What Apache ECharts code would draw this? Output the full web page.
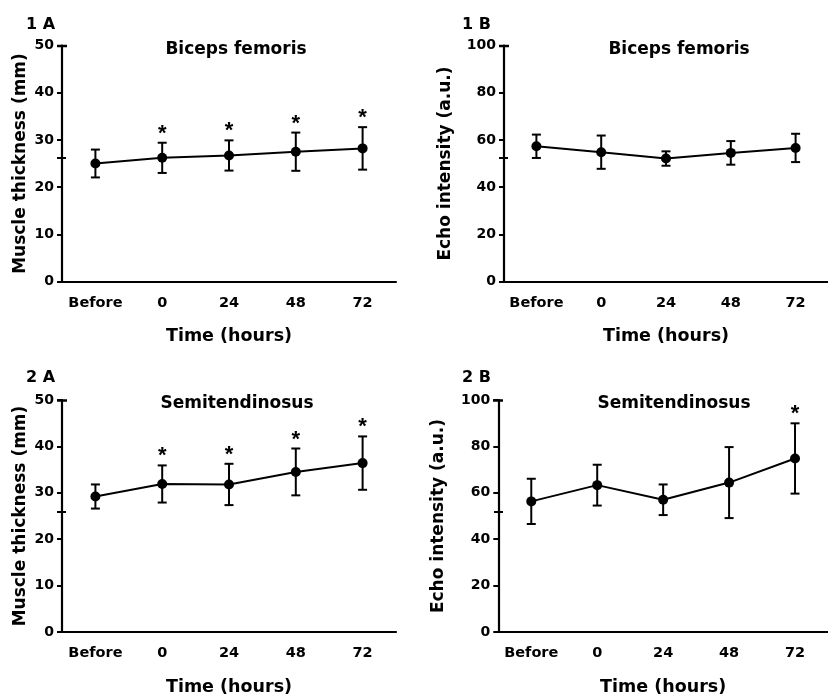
<!DOCTYPE html>
<html>
<head>
<meta charset="utf-8">
<script src="https://cdn.jsdelivr.net/npm/echarts@6/dist/echarts.min.js"></script>
<style>html,body{margin:0;padding:0;background:#fff;}#c{width:828px;height:697px;}</style>
</head>
<body>
<div id="c"></div>
<script>
// ---- data ----
var categories = ['Before', '0', '24', '48', '72'];

var bfThickMean = [25.0, 26.2, 26.7, 27.5, 28.2];
var bfThickSD   = [2.95, 3.2, 3.2, 4.05, 4.5];
var bfThickSig  = [0, 1, 1, 1, 1];

var bfEchoMean = [57.3, 54.8, 52.1, 54.5, 56.6];
var bfEchoSD   = [4.95, 7.05, 3.05, 5.0, 6.0];
var bfEchoSig  = [0, 0, 0, 0, 0];

var stThickMean = [29.2, 31.9, 31.8, 34.5, 36.4];
var stThickSD   = [2.6, 4.0, 4.45, 5.05, 5.75];
var stThickSig  = [0, 1, 1, 1, 1];

var stEchoMean = [56.3, 63.3, 57.0, 64.4, 74.8];
var stEchoSD   = [9.75, 8.8, 6.6, 15.3, 15.15];
var stEchoSig  = [0, 0, 0, 0, 1];

var thickTicks = {min: 0, max: 50, interval: 10};
var echoTicks  = {min: 0, max: 100, interval: 20};

var panelLabels = ['1 A', '1 B', '2 A', '2 B'];
var panelTitles = ['Biceps femoris', 'Biceps femoris', 'Semitendinosus', 'Semitendinosus'];
var yNames = ['Muscle thickness (mm)', 'Echo intensity (a.u.)', 'Muscle thickness (mm)', 'Echo intensity (a.u.)'];
var xName = 'Time (hours)';

// ---- layout / style ----
var FONT = 'DejaVu Sans';
var grids = [
  {left: 62, top: 45.5, width: 334, height: 236},
  {left: 504, top: 45.5, width: 334, height: 236},
  {left: 62, top: 400, width: 334, height: 235.7},
  {left: 498.3, top: 400, width: 334, height: 235.7}
];
var panels = [
  {mean: bfThickMean, sd: bfThickSD, sig: bfThickSig, ticks: thickTicks, yGap: 33},
  {mean: bfEchoMean, sd: bfEchoSD, sig: bfEchoSig, ticks: echoTicks, yGap: 50},
  {mean: stThickMean, sd: stThickSD, sig: stThickSig, ticks: thickTicks, yGap: 33},
  {mean: stEchoMean, sd: stEchoSD, sig: stEchoSig, ticks: echoTicks, yGap: 51}
];
var labelPos = [[26, 17], [462, 17], [26, 370], [462, 370]];
var titlePos = [[236, 41], [679, 41], [237, 395.5], [674, 395.5]];

var option = {
  animation: false,
  backgroundColor: '#fff',
  title: [],
  grid: [],
  xAxis: [],
  yAxis: [],
  series: []
};

panels.forEach(function (p, i) {
  option.grid.push(grids[i]);
  option.title.push({
    text: panelLabels[i], left: labelPos[i][0], top: labelPos[i][1], padding: 0,
    textStyle: {fontFamily: FONT, fontWeight: 'bold', fontSize: 16, color: '#000'}
  });
  option.title.push({
    text: panelTitles[i], left: titlePos[i][0], top: titlePos[i][1], textAlign: 'center', padding: 0,
    textStyle: {fontFamily: FONT, fontWeight: 'bold', fontSize: 17, color: '#000'}
  });
  option.xAxis.push({
    type: 'category', gridIndex: i, data: categories, boundaryGap: true,
    name: xName, nameLocation: 'middle', nameGap: 46,
    nameTextStyle: {fontFamily: FONT, fontWeight: 'bold', fontSize: 17.5, color: '#000'},
    axisLine: {lineStyle: {color: '#000', width: 2.2}},
    axisTick: {alignWithLabel: true, length: 5, lineStyle: {color: '#000', width: 2}},
    axisLabel: {fontFamily: FONT, fontWeight: 'bold', fontSize: 14.5, color: '#000', margin: 14, interval: 0},
    splitLine: {show: false}
  });
  option.yAxis.push({
    type: 'value', gridIndex: i, min: p.ticks.min, max: p.ticks.max, interval: p.ticks.interval,
    name: yNames[i], nameLocation: 'middle', nameGap: p.yGap, nameRotate: 90,
    nameTextStyle: {fontFamily: FONT, fontWeight: 'bold', fontSize: 17, color: '#000'},
    axisLine: {show: true, lineStyle: {color: '#000', width: 2.2}},
    axisTick: {show: true, length: 5, lineStyle: {color: '#000', width: 2}},
    axisLabel: {fontFamily: FONT, fontWeight: 'bold', fontSize: 14, color: '#000', margin: 8},
    splitLine: {show: false}
  });
  option.series.push({
    type: 'line', xAxisIndex: i, yAxisIndex: i, data: p.mean,
    symbol: 'circle', symbolSize: 10, z: 5,
    lineStyle: {color: '#000', width: 2},
    itemStyle: {color: '#000'}
  });
  var errData = p.mean.map(function (m, k) { return [k, m - p.sd[k], m + p.sd[k], p.sig[k]]; });
  option.series.push({
    type: 'custom', xAxisIndex: i, yAxisIndex: i, data: errData, z: 4,
    renderItem: function (params, api) {
      var x = api.value(0);
      var lo = api.coord([x, api.value(1)]);
      var hi = api.coord([x, api.value(2)]);
      var hw = 4.5;
      var style = {stroke: '#000', lineWidth: 2, fill: null};
      var children = [
        {type: 'line', shape: {x1: lo[0], y1: lo[1], x2: hi[0], y2: hi[1]}, style: style},
        {type: 'line', shape: {x1: lo[0] - hw, y1: lo[1], x2: lo[0] + hw, y2: lo[1]}, style: style},
        {type: 'line', shape: {x1: hi[0] - hw, y1: hi[1], x2: hi[0] + hw, y2: hi[1]}, style: style}
      ];
      if (api.value(3)) {
        children.push({type: 'text', style: {
          text: '*', x: hi[0], y: hi[1] - 9, align: 'center', verticalAlign: 'middle',
          font: 'bold 22px "Liberation Sans", Arial, sans-serif', fill: '#000'
        }});
      }
      return {type: 'group', children: children};
    }
  });
});

// small axis marks present in the original figure
option.graphic = [
  {type: 'line', shape: {x1: 57, y1: 158, x2: 66, y2: 158}, style: {stroke: '#000', lineWidth: 2}},
  {type: 'line', shape: {x1: 499, y1: 158, x2: 508, y2: 158}, style: {stroke: '#000', lineWidth: 2}},
  {type: 'line', shape: {x1: 57, y1: 512, x2: 66, y2: 512}, style: {stroke: '#000', lineWidth: 2}},
  {type: 'line', shape: {x1: 494, y1: 512, x2: 503, y2: 512}, style: {stroke: '#000', lineWidth: 2}},
  {type: 'line', shape: {x1: 57, y1: 46, x2: 67, y2: 46}, style: {stroke: '#000', lineWidth: 2.5}},
  {type: 'line', shape: {x1: 499, y1: 46, x2: 509, y2: 46}, style: {stroke: '#000', lineWidth: 2.5}},
  {type: 'line', shape: {x1: 57, y1: 400.5, x2: 67, y2: 400.5}, style: {stroke: '#000', lineWidth: 2.5}},
  {type: 'line', shape: {x1: 493, y1: 400.5, x2: 503, y2: 400.5}, style: {stroke: '#000', lineWidth: 2.5}}
];

var chart = echarts.init(document.getElementById('c'), null, {renderer: 'canvas'});
chart.setOption(option);
</script>
</body>
</html>
